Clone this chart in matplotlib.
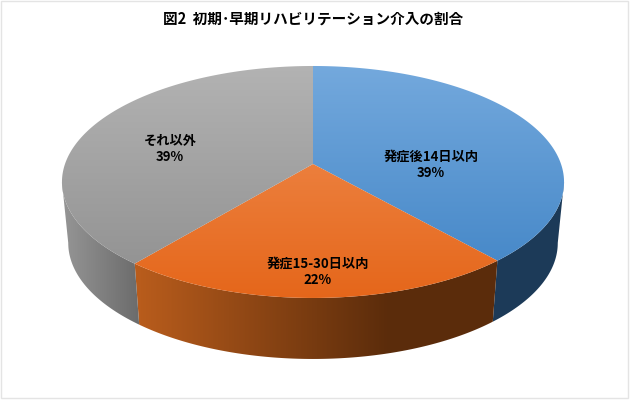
import numpy as np
import matplotlib
matplotlib.use("Agg")
import matplotlib.pyplot as plt
from matplotlib.colors import LinearSegmentedColormap
from matplotlib.patches import Polygon, Rectangle

plt.rcParams['font.family'] = ['Noto Sans CJK JP', 'DejaVu Sans']

title = "図2  初期･早期リハビリテーション介入の割合"
labels = ["発症後14日以内", "発症15-30日以内", "それ以外"]
shares = [38.6, 22.3, 39.1]

# top face colours (far -> near), side colours (left -> right)
top_colors = [("#74a9dd", "#3f83c5"), ("#f19156", "#e5661a"), ("#b3b3b3", "#8e8e8e")]
side_colors = [("#1c3a58", "#1c3a58"), ("#b85c1c", "#5b2c0b"), ("#949494", "#6c6c6c")]
side_ranges = [(490, 560), (140, 390), (65, 138)]
label_pos = [(431, 165), (318, 272), (170, 149)]

TILT = 0.155


def top_point(theta):
    # pie angle (clockwise from 12 o'clock) to pixels, perspective circle
    u, v = np.sin(theta), -np.cos(theta)
    d = 1 - TILT * v
    return 313 + 248 * u / d, 164 + 113.2 * v / d


def bottom_point(theta):
    x, y = top_point(theta)
    return 313 + 0.975 * (x - 313), y + 61


def gradient_fill(verts, colors, grad, extent, zorder):
    clip = Polygon(verts, closed=True, fc="none", ec="none", transform=ax.transData)
    ax.add_patch(clip)
    cmap = LinearSegmentedColormap.from_list("g", colors)
    im = ax.imshow(grad, cmap=cmap, vmin=0, vmax=1, extent=extent, aspect="auto", zorder=zorder)
    im.set_clip_path(clip)


fig = plt.figure(figsize=(6.3, 4.0), dpi=100)
ax = fig.add_axes([0, 0, 1, 1])
ax.set_xlim(0, 630)
ax.set_ylim(400, 0)
ax.axis("off")

ax.add_patch(Rectangle((0.5, 1), 627.5, 397, fc="white", ec="#e4e4e4", lw=1))

edges = np.radians(np.concatenate([[0], np.cumsum(shares)]) * 360 / sum(shares))
px_x = np.linspace(50, 580, 530)
# the wall only shows between the two widest points of the rim
wall_start = np.arccos(-TILT)
wall_end = 2 * np.pi - wall_start

for i in range(len(shares)):
    th = np.linspace(edges[i], edges[i + 1], 200)
    x0, y0 = top_point(th)

    wall_th = np.linspace(max(edges[i], wall_start), min(edges[i + 1], wall_end), 200)
    wx0, wy0 = top_point(wall_th)
    wx1, wy1 = bottom_point(wall_th)
    lo, hi = side_ranges[i]
    wall = list(zip(wx0, wy0)) + list(zip(wx1[::-1], wy1[::-1]))
    grad = np.clip((px_x - lo) / (hi - lo), 0, 1).reshape(1, -1)
    gradient_fill(wall, side_colors[i], grad, (50, 580, 365, 60), 2)

    # top face
    verts = [(313, 164)] + list(zip(x0, y0))
    grad = np.linspace(0, 1, 256).reshape(-1, 1)
    gradient_fill(verts, top_colors[i], grad, (60, 566, 300, 64), 3)

ax.set_xlim(0, 630)
ax.set_ylim(400, 0)

for name, share, (px, py) in zip(labels, shares, label_pos):
    ax.text(px, py, f"{name}\n{share:.0f}%", ha="center", va="center", fontsize=9.5,
            fontweight="bold", color="black", linespacing=1.19, zorder=5)

ax.text(313, 19, title, ha="center", va="center", fontsize=10.5, fontweight="bold", color="black")

fig.savefig("out.png", dpi=100)
